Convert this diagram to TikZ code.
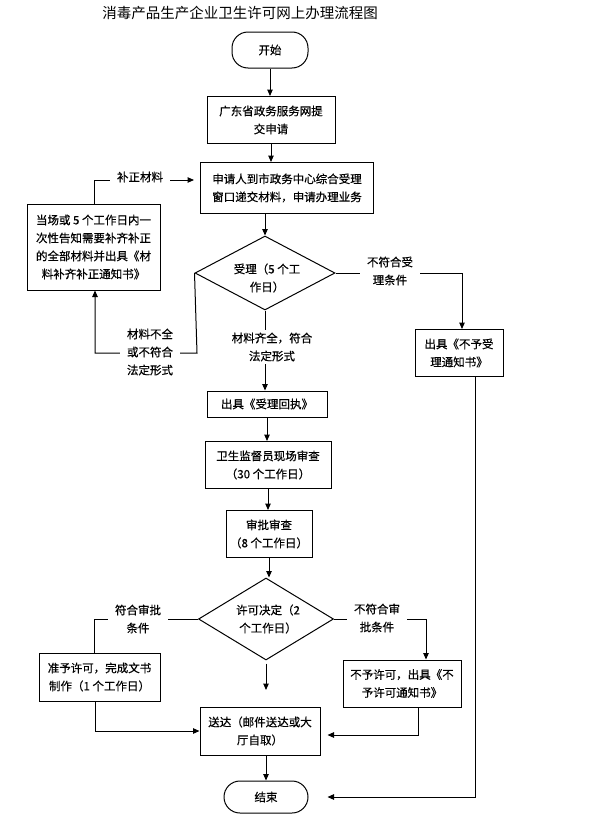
\documentclass[tikz,border=0pt]{standalone}
\usepackage{fontspec}
\newfontfamily\cjk{Noto Sans CJK SC}
\newfontfamily\cjkb[FakeBold=0.5]{Noto Sans CJK SC}
\usetikzlibrary{shapes.geometric,arrows.meta,positioning}
\tikzset{
  base/.style={font=\cjkb\fontsize{11.5}{18}\selectfont, align=center, inner sep=0pt},
  boxnode/.style={base, draw, line width=1pt, rectangle},
  termnode/.style={base, draw, line width=1pt, rectangle, rounded corners=16pt},
  decnode/.style={draw, line width=1pt, diamond, inner sep=0pt},
  lbl/.style={base, fill=white, inner xsep=7pt, inner ysep=3pt},
  conn/.style={line width=1pt},
  arr/.style={conn, -{Triangle[length=6.5pt,width=5.5pt]}}
}
\begin{document}
\begin{tikzpicture}[x=1pt,y=-1pt]
\useasboundingbox (0,0) rectangle (590,835);
% title
\node[base, font=\cjk\fontsize{14.5}{18}\selectfont] (title) at (240,13) {消毒产品生产企业卫生许可网上办理流程图};
% nodes
\node[termnode, minimum width=76pt, minimum height=36pt] (start) at (270,50) {开始};
\node[boxnode, minimum width=128pt, minimum height=47pt] (b1) at (271,120) {广东省政务服务网提\\交申请};
\node[boxnode, minimum width=173pt, minimum height=51pt] (b2) at (287,188) {申请人到市政务中心综合受理\\窗口递交材料，申请办理业务};
\node[boxnode, minimum width=133pt, minimum height=86pt] (lb) at (93.5,247) {当场或 5 个工作日内一\\次性告知需要补齐补正\\的全部材料并出具《材\\料补齐补正通知书》};
\node[decnode, minimum width=140pt, minimum height=74pt] (d1) at (265,273) {};
\node[base] (d1t) at (267,278) {受理（5 个工\\作日）};
\node[boxnode, minimum width=88pt, minimum height=47pt] (rb) at (459,353) {出具《不予受\\理通知书》};
\node[boxnode, minimum width=120pt, minimum height=26pt] (b3) at (267,404) {出具《受理回执》};
\node[boxnode, minimum width=126pt, minimum height=47pt] (b4) at (268,465) {卫生监督员现场审查\\（30 个工作日）};
\node[boxnode, minimum width=86pt, minimum height=47pt] (b5) at (269,534) {审批审查\\（8 个工作日）};
\node[decnode, minimum width=135pt, minimum height=82pt] (d2) at (266,619) {};
\node[base] (d2t) at (268,619) {许可决定（2\\个工作日）};
\node[boxnode, minimum width=121pt, minimum height=48pt] (lb2) at (99.5,677) {准予许可，完成文书\\制作（1 个工作日）};
\node[boxnode, minimum width=118pt, minimum height=47pt] (rb2) at (402,683.5) {不予许可，出具《不\\予许可通知书》};
\node[boxnode, minimum width=120pt, minimum height=48pt] (b6) at (260,731) {送达（邮件送达或大\\厅自取）};
\node[termnode, minimum width=84pt, minimum height=32pt] (end) at (266,797) {结束};
% helper coordinates
\coordinate (c1) at (197,353);
\coordinate (c2) at (266,690);
% connectors
\draw[arr] (start.south) -- (start.south |- b1.north);
\draw[arr] (b1.south) -- (b1.south |- b2.north);
\draw[arr] (d1.north |- b2.south) -- (d1.north);
\draw[arr] (d1.east) -| ([xshift=3pt]rb.north);
\draw[arr] (d1.west) -- (c1) -| ([xshift=1.5pt]lb.south);
\draw[arr, shorten >=6pt] ([xshift=0.5pt]lb.north) |- ([yshift=8pt]b2.west);
\draw[arr] (d1.south) -- (d1.south |- b3.north);
\draw[arr] (b3.south) -- (b3.south |- b4.north);
\draw[arr] (b4.south) -- (b4.south |- b5.north);
\draw[arr] (b5.south) -- (b5.south |- d2.north);
\draw[conn] (d2.west) -| ([xshift=-5.5pt]lb2.north);
\draw[arr] (d2.east) -| ([xshift=24pt]rb2.north);
\draw[arr] ([yshift=-3pt]d2.south) -- (c2);
\draw[arr] ([xshift=-4.5pt]lb2.south) |- (b6.west);
\draw[arr, shorten >=7pt] ([xshift=16pt]rb2.south) |- ([yshift=-4pt]b6.east);
\draw[arr] (b6.south -| end.north) -- (end.north);
\draw[arr, shorten >=19pt] ([xshift=16pt]rb.south) |- (end.east);
% labels
\node[lbl] (l1) at (140,177) {补正材料};
\node[lbl] (l2) at (390,271) {不符合受\\理条件};
\node[lbl] (l3) at (150,352) {材料不全\\或不符合\\法定形式};
\node[lbl] (l4) at (272,347) {材料齐全，符合\\法定形式};
\node[lbl] (l5) at (138,619) {符合审批\\条件};
\node[lbl] (l6) at (377,618) {不符合审\\批条件};
\end{tikzpicture}
\end{document}
